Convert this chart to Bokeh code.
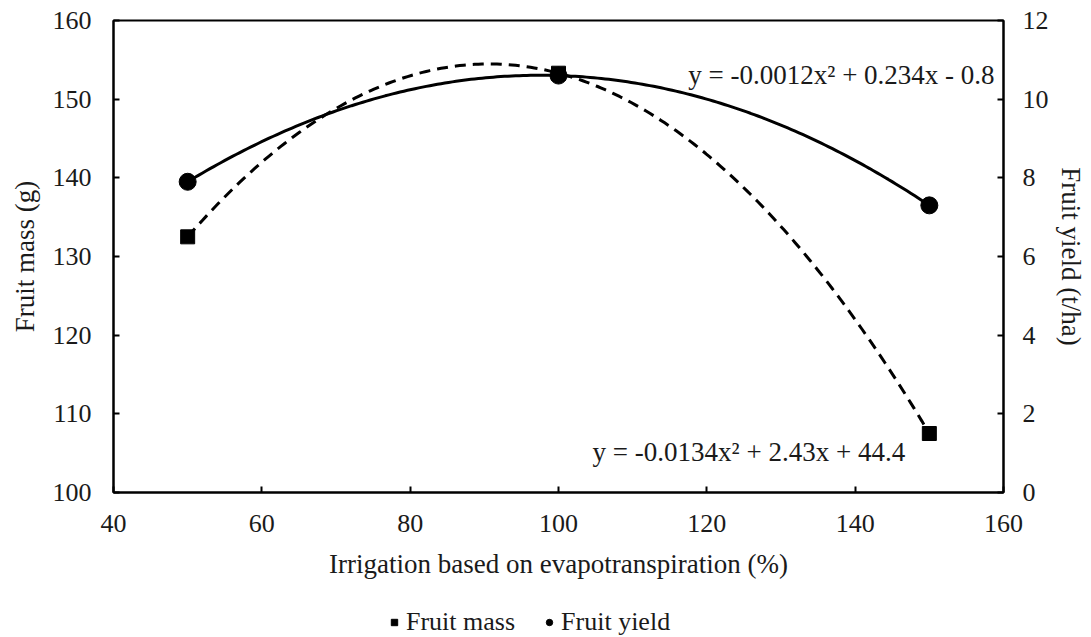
import numpy as np
from bokeh.plotting import figure
from bokeh.layouts import column
from bokeh.models import Range1d, LinearAxis, Legend, LegendItem, Label, FixedTicker
from bokeh.embed import file_html
from bokeh.resources import INLINE

# Data
irrigation = [50, 100, 150]
fruit_mass = [132.5, 153.3, 107.5]
fruit_yield = [7.9, 10.6, 7.3]
x_ticks = [40, 60, 80, 100, 120, 140, 160]
left_ticks = [100, 110, 120, 130, 140, 150, 160]
right_ticks = [0, 2, 4, 6, 8, 10, 12]
eq_mass = "y = -0.0134x² + 2.43x + 44.4"
eq_yield = "y = -0.0012x² + 0.234x - 0.8"
series_names = ["Fruit mass", "Fruit yield"]

FONT = "Liberation Serif"
TXT = "#1a1a1a"

p = figure(width=1091, height=600, output_backend="svg", toolbar_location=None,
           x_range=Range1d(40, 160), y_range=Range1d(100, 160),
           min_border_left=113, min_border_right=88, min_border_top=20, min_border_bottom=108)
p.xgrid.visible = False
p.ygrid.visible = False
p.outline_line_color = "black"
p.outline_line_width = 2
p.background_fill_color = "white"
p.border_fill_color = "white"

p.extra_y_ranges = {"yield": Range1d(0, 12)}
right_axis = LinearAxis(y_range_name="yield")
p.add_layout(right_axis, "right")

def style_axis(ax, ticks):
    ax.ticker = FixedTicker(ticks=ticks)
    ax.minor_tick_line_color = None
    ax.major_tick_in = 6
    ax.major_tick_out = 0
    ax.major_tick_line_width = 2
    ax.axis_line_width = 2
    ax.axis_line_color = "black"
    ax.major_tick_line_color = "black"
    ax.major_label_text_font = FONT
    ax.major_label_text_font_size = "26px"
    ax.major_label_text_color = TXT
    ax.axis_label_text_font = FONT
    ax.axis_label_text_font_size = "27px"
    ax.axis_label_text_font_style = "normal"
    ax.axis_label_text_color = TXT

style_axis(p.xaxis[0], x_ticks)
style_axis(p.yaxis[0], left_ticks)
style_axis(right_axis, right_ticks)

p.xaxis[0].axis_label = "Irrigation based on evapotranspiration (%)"
p.xaxis[0].major_label_standoff = 22
p.xaxis[0].axis_label_standoff = 14
p.yaxis[0].axis_label = "Fruit mass (g)"
p.yaxis[0].major_label_standoff = 22
p.yaxis[0].axis_label_standoff = 10
right_axis.axis_label = "Fruit yield (t/ha)"
right_axis.major_label_standoff = 19
right_axis.axis_label_standoff = 4

# Trendlines (quadratic fits to the data)
xs = np.linspace(min(irrigation), max(irrigation), 200)
cm = np.polyfit(irrigation, fruit_mass, 2)
cy = np.polyfit(irrigation, fruit_yield, 2)
p.line(xs, np.polyval(cm, xs), line_color="black", line_width=3, line_dash="11 7")
p.line(xs, np.polyval(cy, xs), line_color="black", line_width=3, y_range_name="yield")

p.scatter(irrigation, fruit_mass, marker="square", size=14, color="black")
p.scatter(irrigation, fruit_yield, marker="circle", size=17, color="black", y_range_name="yield")

p.add_layout(Label(x=158.8, y=10.62, y_range_name="yield", text=eq_yield, text_align="right",
                   text_baseline="middle", text_font=FONT, text_font_size="27px",
                   text_color=TXT))
p.add_layout(Label(x=104.6, y=105.1, text=eq_mass, text_align="left",
                   text_baseline="middle", text_font=FONT, text_font_size="27px",
                   text_color=TXT))

# Legend strip below the chart (its series are drawn out of view; only the legend shows)
lg = figure(width=1091, height=37, output_backend="svg", toolbar_location=None,
            x_axis_type=None, y_axis_type=None,
            x_range=Range1d(1000, 1001), y_range=Range1d(1000, 1001),
            min_border_left=0, min_border_right=0, min_border_top=0, min_border_bottom=0)
lg.outline_line_color = None
lg.border_fill_color = "white"
lg.background_fill_color = "white"
lr_mass = lg.scatter(irrigation, fruit_mass, marker="square", size=14, color="black")
lr_yield = lg.scatter(irrigation, fruit_yield, marker="circle", size=17, color="black")
legend = Legend(items=[LegendItem(label=series_names[0], renderers=[lr_mass]),
                       LegendItem(label=series_names[1], renderers=[lr_yield])],
                orientation="horizontal", location=(273, 0),
                label_text_font=FONT, label_text_font_size="26px", label_text_color=TXT,
                glyph_width=16, glyph_height=16, label_standoff=4, spacing=26,
                border_line_color=None, background_fill_alpha=0, padding=0, margin=0)
lg.add_layout(legend, "center")

layout = column(p, lg, spacing=0)
open("out.html", "w").write(file_html(layout, INLINE))
